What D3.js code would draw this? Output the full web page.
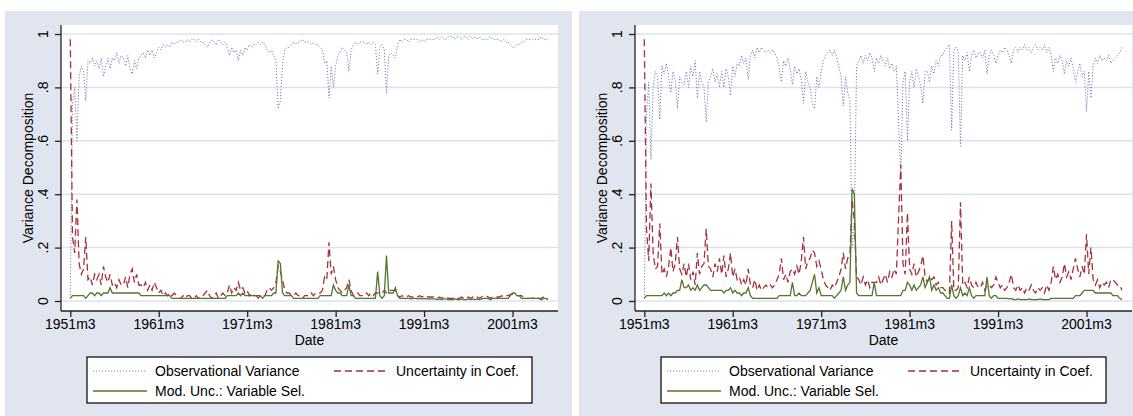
<!DOCTYPE html>
<html>
<head>
<meta charset="utf-8">
<script src="https://cdnjs.cloudflare.com/ajax/libs/d3/7.8.5/d3.min.js"></script>
<style>
body { margin: 0; background: #fff; }
svg text { font-family: "Liberation Sans", Arial, sans-serif; fill: #000; }
</style>
</head>
<body>
<div id="chart-area"></div>
<script>
// Quarterly readings (1951m3, 1951m6, ... 2005m3), share of variance in percent
var stepMonths = 3;

var tickMonths = [0, 120, 240, 360, 480, 600];
var tickLabels = ["1951m3", "1961m3", "1971m3", "1981m3", "1991m3", "2001m3"];
var yTicks = [0, 0.2, 0.4, 0.6, 0.8, 1];
var yTickLabels = ["0", ".2", ".4", ".6", ".8", "1"];
var seriesNames = ["Observational Variance", "Uncertainty in Coef.", "Mod. Unc.: Variable Sel."];

// left panel
var leftObs = [
    1, 74, 80, 60,  84, 88, 86, 75,
    90, 89, 91, 88,  90, 87, 91, 84,
    88, 91, 87, 91,  90, 93, 89, 92,
    91, 88, 92, 87,  85, 90, 87, 91,
    92, 93, 91, 94,  92, 94, 91, 93,
    95, 94, 96, 95,  96, 95, 97, 96,
    97, 97, 98, 97,  97, 98, 97, 98,
    98, 97, 98, 97,  97, 96, 95, 97,
    98, 97, 96, 98,  97, 96, 97, 95,
    92, 95, 93, 94,  90, 94, 92, 95,
    94, 96, 95, 96,  96, 97, 96, 97,
    96, 94, 93, 94,  92, 90, 72, 75,
    89, 94, 95, 95,  96, 97, 96, 97,
    97, 98, 97, 97,  97, 96, 97, 96,
    96, 95, 94, 89,  90, 76, 88, 80,
    88, 92, 93, 95,  94, 93, 86, 94,
    96, 97, 96, 97,  97, 97, 96, 97,
    96, 97, 96, 85,  95, 96, 94, 78,
    92, 93, 92, 91,  96, 98, 97, 98,
    98, 97, 98, 98,  98, 98, 97, 98,
    97, 98, 98, 98,  98, 98, 99, 98,
    99, 98, 98, 99,  99, 99, 98, 99,
    99, 98, 99, 99,  98, 99, 98, 99,
    98, 99, 98, 98,  98, 98, 99, 98,
    98, 98, 98, 97,  98, 97, 97, 96,
    95, 95, 96, 96,  97, 97, 98, 98,
    98, 98, 98, 98,  98, 99, 98, 98,
    98
];
var leftCoef = [
    98, 24, 18, 38,  14, 10, 12, 24,
    8, 9, 6, 10,  8, 10, 6, 13,
    9, 7, 10, 6,  7, 5, 8, 6,
    6, 9, 5, 10,  12, 7, 10, 6,
    6, 5, 7, 4,  6, 4, 7, 5,
    3, 4, 2, 3,  2, 3, 2, 3,
    2, 1, 1, 2,  1, 2, 2, 1,
    1, 2, 1, 2,  2, 3, 4, 2,
    1, 2, 3, 1,  2, 3, 2, 3,
    6, 3, 5, 4,  7, 4, 5, 3,
    4, 2, 3, 2,  2, 2, 2, 2,
    2, 4, 5, 4,  5, 7, 13, 11,
    8, 4, 3, 3,  2, 2, 3, 2,
    2, 1, 2, 2,  2, 3, 2, 3,
    3, 3, 4, 9,  8, 22, 10, 13,
    8, 5, 4, 3,  4, 5, 8, 4,
    2, 2, 3, 2,  2, 2, 3, 2,
    3, 2, 3, 3,  3, 3, 4, 3,
    4, 4, 4, 4,  2, 1.5, 2, 1.5,
    1.5, 2, 1.5, 1.5,  1.5, 1.5, 2, 1.5,
    2, 1.5, 1.5, 1.5,  1.5, 1.5, 1, 1.5,
    1, 1.5, 1.5, 1,  1, 1, 1.5, 1,
    1, 1.5, 1, 1,  1.5, 1, 1.5, 1,
    1.5, 1, 1.5, 2,  2, 1.5, 1, 1.5,
    1.5, 1.5, 1.5, 2,  1.5, 2, 2, 2.5,
    2.5, 2.5, 2, 2,  2, 1.5, 1, 1,
    1, 1, 1.5, 1,  1, 1, 1.5, 1,
    1
];
var leftMod = [
    1, 2, 2, 2,  2, 2, 2, 1,
    2, 3, 3, 2,  3, 3, 2, 3,
    3, 3, 5, 3,  3, 3, 3, 3,
    3, 3, 3, 3,  3, 3, 3, 3,
    2, 2, 2, 2,  2, 2, 2, 2,
    2, 2, 2, 2,  2, 2, 1, 1,
    1, 1, 1, 1,  1, 1, 1, 1,
    1, 1, 1, 1,  1, 1, 1, 1,
    1, 1, 1, 1,  1, 1, 1, 2,
    2, 2, 2, 2,  3, 2, 3, 2,
    2, 2, 2, 2,  2, 1, 2, 1,
    2, 2, 2, 2,  3, 3, 15, 14,
    3, 2, 2, 2,  2, 1, 1, 1,
    1, 1, 1, 1,  1, 1, 1, 1,
    1, 2, 2, 2,  2, 2, 2, 6,
    4, 3, 3, 2,  2, 2, 6, 2,
    2, 1, 1, 1,  1, 1, 1, 1,
    1, 1, 1, 11,  2, 1, 2, 17,
    3, 3, 3, 5,  2, 1, 1, 1,
    1, 1, 0.8, 1,  1, 0.8, 1, 0.8,
    1, 0.8, 0.8, 0.8,  0.8, 0.8, 0.5, 0.8,
    0.5, 0.8, 0.8, 0.5,  0.5, 0.5, 0.8, 0.5,
    0.5, 0.8, 0.5, 0.5,  0.8, 0.5, 0.8, 0.5,
    0.8, 0.5, 0.8, 1,  1, 1, 0.5, 1,
    1, 1, 1, 1,  1, 1, 1, 2,
    3, 3, 2, 2,  1, 1, 1, 1,
    1, 1, 1, 1,  1, 0.5, 1, 1,
    0.5
];

// right panel
var rightObs = [
    1, 70, 82, 53,  80, 86, 84, 68,
    88, 85, 89, 84,  78, 86, 83, 72,
    84, 82, 81, 86,  80, 88, 84, 90,
    76, 86, 82, 80,  67, 82, 84, 87,
    82, 85, 80, 86,  80, 87, 84, 77,
    88, 84, 89, 88,  92, 89, 91, 83,
    92, 94, 91, 95,  93, 95, 94, 93,
    94, 93, 94, 93,  91, 88, 82, 90,
    88, 91, 87, 81,  88, 85, 87, 83,
    74, 86, 82, 80,  74, 72, 84, 80,
    86, 90, 92, 93,  94, 92, 94, 91,
    88, 84, 73, 84,  78, 75, 20, 30,
    88, 90, 92, 89,  92, 90, 93, 91,
    86, 91, 89, 92,  90, 88, 91, 87,
    89, 86, 88, 67,  47, 82, 86, 60,
    82, 86, 80, 87,  84, 81, 74, 86,
    86, 82, 88, 85,  90, 88, 92, 92,
    94, 95, 96, 64,  94, 95, 93, 58,
    92, 90, 93, 86,  92, 94, 91, 93,
    93, 91, 94, 85,  92, 94, 92, 89,
    92, 94, 93, 95,  94, 92, 89, 94,
    95, 93, 95, 94,  96, 94, 95, 93,
    95, 96, 94, 95,  94, 96, 93, 95,
    92, 86, 91, 89,  92, 90, 85, 90,
    88, 91, 87, 82,  86, 89, 84, 86,
    71, 86, 76, 88,  91, 89, 92, 90,
    91, 90, 92, 89,  90, 91, 92, 93,
    95
];
var rightCoef = [
    98, 27, 15, 44,  18, 12, 13, 29,
    10, 12, 9, 13,  20, 11, 14, 24,
    12, 10, 14, 9,  14, 8, 11, 6,
    18, 10, 13, 14,  27, 13, 12, 9,
    14, 11, 16, 10,  17, 9, 12, 18,
    9, 12, 8, 9,  6, 8, 6, 12,
    6, 5, 8, 4,  6, 4, 5, 6,
    5, 6, 5, 6,  8, 10, 16, 8,
    10, 7, 11, 12,  10, 13, 10, 15,
    24, 12, 15, 16,  19, 18, 13, 15,
    12, 8, 6, 5,  4, 6, 5, 7,
    9, 12, 18, 12,  16, 18, 38, 30,
    9, 8, 6, 9,  6, 8, 5, 7,
    7, 7, 9, 6,  8, 10, 7, 11,
    9, 12, 10, 31,  51, 14, 10, 33,
    12, 10, 14, 9,  11, 13, 17, 9,
    7, 9, 8, 9,  6, 7, 5, 5,
    4, 4, 3, 30,  4, 4, 5, 37,
    6, 7, 5, 9,  6, 5, 7, 5,
    5, 7, 4, 6,  6, 5, 6, 9,
    7, 5, 6, 4,  5, 7, 10, 5,
    4, 6, 4, 5,  3, 5, 4, 6,
    4, 3, 5, 4,  5, 3, 6, 4,
    7, 13, 8, 10,  7, 9, 14, 9,
    11, 8, 12, 16,  12, 9, 13, 10,
    25, 10, 20, 8,  6, 8, 5, 7,
    6, 7, 5, 8,  8, 7, 6, 6,
    4
];
var rightMod = [
    1, 2, 2, 2,  2, 2, 2, 2,
    2, 3, 2, 3,  2, 3, 3, 4,
    4, 8, 5, 5,  6, 4, 5, 4,
    6, 4, 5, 6,  6, 5, 4, 4,
    4, 4, 4, 4,  3, 4, 4, 5,
    3, 4, 3, 3,  2, 3, 3, 5,
    2, 1, 1, 1,  1, 1, 1, 1,
    1, 1, 1, 1,  1, 2, 2, 2,
    2, 2, 2, 7,  2, 2, 3, 2,
    2, 2, 3, 4,  7, 10, 3, 5,
    2, 2, 2, 2,  2, 2, 1, 2,
    3, 4, 9, 4,  6, 7, 42, 40,
    3, 2, 2, 2,  2, 2, 2, 2,
    7, 2, 2, 2,  2, 2, 2, 2,
    2, 2, 2, 2,  2, 4, 4, 7,
    6, 4, 6, 4,  5, 6, 9, 5,
    7, 9, 4, 6,  4, 5, 3, 3,
    2, 1, 1, 6,  2, 1, 2, 5,
    2, 3, 2, 5,  2, 1, 2, 2,
    2, 2, 2, 9,  2, 1, 2, 2,
    1, 1, 1, 1,  1, 0.8, 1, 0.5,
    0.5, 0.8, 0.5, 0.5,  0.5, 0.5, 0.8, 0.5,
    0.5, 0.5, 0.5, 0.8,  0.5, 0.5, 0.5, 0.5,
    1, 1, 1, 1,  1, 1, 1, 1,
    1, 1, 1, 2,  2, 2, 3, 4,
    4, 4, 4, 4,  3, 3, 3, 3,
    3, 3, 3, 3,  2, 2, 2, 1,
    0.5
];

var width = 1133,
    height = 416,
    panelShift = 574;

var svg = d3.select("#chart-area")
    .append("svg")
    .attr("width", width)
    .attr("height", height);

// same scales for both panels, shifted by a transform
var x = d3.scaleLinear().domain([-12.6, 661.7]).range([61, 558]);
var y = d3.scaleLinear().domain([0, 1]).range([301, 34]);

var colors = ["#7482b2", "#a3323e", "#55752f"];
var dashes = ["1.2,1.8", "7,4", null];

drawPanel(0, [leftObs, leftCoef, leftMod]);
drawPanel(panelShift, [rightObs, rightCoef, rightMod]);

function drawPanel(dx, series) {
    var g = svg.append("g").attr("transform", "translate(" + dx + ",0)");

    // graph region and plot region
    g.append("rect")
        .attr("x", 5).attr("y", 11)
        .attr("width", 567).attr("height", 410)
        .style("fill", "#e0e5ef");
    g.append("rect")
        .attr("x", 61).attr("y", 25)
        .attr("width", 497).attr("height", 286)
        .style("fill", "#fff");

    // horizontal grid
    g.selectAll(".grid").data(yTicks).enter().append("line")
        .attr("class", "grid")
        .attr("x1", 61).attr("x2", 558)
        .attr("y1", function(d) { return y(d); })
        .attr("y2", function(d) { return y(d); })
        .style("stroke", "#dbe2ee")
        .style("stroke-width", 1.5);

    // y axis
    var yAxis = d3.axisLeft(y).tickValues(yTicks).tickSize(6).tickFormat("");
    var ya = g.append("g").attr("transform", "translate(61,0)").call(yAxis);
    ya.select(".domain").attr("d", "M0,25V311");
    ya.selectAll("path, line").style("stroke", "#222").style("stroke-width", 1.3);

    g.selectAll(".ylab").data(yTicks).enter().append("text")
        .attr("class", "ylab")
        .attr("transform", function(d) { return "translate(48," + y(d) + ")rotate(-90)"; })
        .attr("text-anchor", "middle")
        .style("font-size", "14px")
        .text(function(d, i) { return yTickLabels[i]; });

    g.append("text")
        .attr("transform", "translate(33,168)rotate(-90)")
        .attr("text-anchor", "middle")
        .style("font-size", "14px")
        .text("Variance Decomposition");

    // x axis
    var xAxis = d3.axisBottom(x).tickValues(tickMonths).tickSize(6).tickFormat("");
    var xa = g.append("g").attr("transform", "translate(0,311)").call(xAxis);
    xa.select(".domain").attr("d", "M61,0H558");
    xa.selectAll("path, line").style("stroke", "#222").style("stroke-width", 1.3);

    g.selectAll(".xlab").data(tickMonths).enter().append("text")
        .attr("class", "xlab")
        .attr("x", function(d) { return x(d); })
        .attr("y", 329)
        .attr("text-anchor", "middle")
        .style("font-size", "14px")
        .text(function(d, i) { return tickLabels[i]; });

    g.append("text")
        .attr("x", 309.5).attr("y", 345)
        .attr("text-anchor", "middle")
        .style("font-size", "14px")
        .text("Date");

    // series
    var line = d3.line()
        .x(function(d, i) { return x(i * stepMonths); })
        .y(function(d) { return y(d / 100); });

    series.forEach(function(s, k) {
        g.append("path")
            .datum(s)
            .attr("d", line)
            .style("fill", "none")
            .style("stroke", colors[k])
            .style("stroke-width", k == 0 ? 1 : 1.3)
            .style("stroke-dasharray", dashes[k]);
    });

    // legend
    var lg = g.append("g");
    lg.append("rect")
        .attr("x", 87).attr("y", 357)
        .attr("width", 445).attr("height", 46)
        .style("fill", "#fff")
        .style("stroke", "#111")
        .style("stroke-width", 1.3);

    var slots = [[93, 371], [334, 371], [93, 391]];
    slots.forEach(function(p, k) {
        lg.append("line")
            .attr("x1", p[0]).attr("x2", p[0] + 54)
            .attr("y1", p[1]).attr("y2", p[1])
            .style("stroke", colors[k])
            .style("stroke-width", k == 0 ? 1 : 1.3)
            .style("stroke-dasharray", dashes[k]);
        lg.append("text")
            .attr("x", p[0] + 62).attr("y", p[1] + 5)
            .style("font-size", "14px")
            .text(seriesNames[k]);
    });
}
</script>
</body>
</html>
